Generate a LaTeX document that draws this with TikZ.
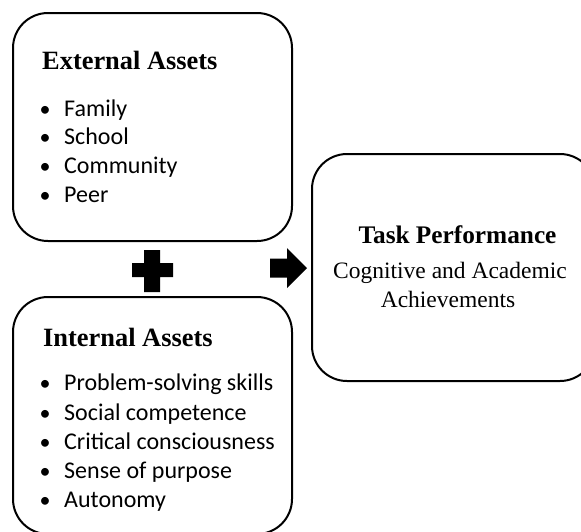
\documentclass[tikz,border=0pt]{standalone}
\usepackage{fontspec}
\setmainfont{Liberation Serif}
\newfontfamily\itemfont{Carlito}
\begin{document}
\begin{tikzpicture}[x=1pt,y=-1pt,
  assetbox/.style={draw=black, line width=2pt, rounded corners=35pt, rectangle, inner sep=0pt, outer sep=0pt},
  titletext/.style={anchor=base west, inner sep=0pt, font=\fontsize{26.4}{31}\selectfont\bfseries},
  bullettext/.style={anchor=base west, inner sep=0pt, font=\itemfont\fontsize{24}{29}\selectfont},
  bulletdot/.style={anchor=base, inner sep=0pt, font=\itemfont\fontsize{22}{29}\selectfont},
  tasktext/.style={anchor=base, inner sep=0pt, font=\fontsize{23.5}{28}\selectfont},
  symbolfill/.style={fill=black, draw=none}
]
\useasboundingbox (0,0) rectangle (581,531);
\clip (0,0) rectangle (581,531);

% boxes
\node[assetbox, minimum width=279pt, minimum height=228pt] (ext) at (152.5,127) {};
\node[assetbox, minimum width=279pt, minimum height=237pt] (int) at (152.5,415.5) {};
\node[assetbox, minimum width=283pt, minimum height=227pt] (task) at (453.5,267.5) {};

% External assets
\node[titletext] (extT) at (42,69) {External Assets};
\foreach \t/\y/\n in {Family/116/a, School/144.5/b, Community/173/c, Peer/202/d}{
  \node[bulletdot] (eb\n) at (45,\y) {•};
  \node[bullettext] (et\n) at (64,\y) {\t};
}

% Internal assets
\node[titletext] (intT) at (43,346.5) {Internal Assets};
\foreach \t/\y/\n in {Problem-solving skills/390.5/a, Social competence/420/b, Critical consciousness/449/c, Sense of purpose/478/d, Autonomy/507/e}{
  \node[bulletdot] (ib\n) at (45,\y) {•};
  \node[bullettext] (it\n) at (64,\y) {\t};
}

% Task performance
\node[tasktext, font=\fontsize{25.3}{30}\selectfont\bfseries] (taskT) at (457.5,243) {Task Performance};
\node[tasktext] (taskA) at (450,278) {Cognitive and Academic};
\node[tasktext] (taskB) at (448,307) {Achievements};

% plus sign
\coordinate (plusC) at (152,271);
\fill[symbolfill] (132,263) -- (144,263) -- (144,250) -- (160,250) -- (160,263) -- (173,263)
  -- (173,277) -- (160,277) -- (160,292) -- (144,292) -- (144,277) -- (132,277) -- cycle;

% arrow
\coordinate (arrC) at (288,268);
\fill[symbolfill] (270,258.5) -- (287,258.5) -- (287,248) -- (307,268) -- (287,288) -- (287,277.5) -- (270,277.5) -- cycle;
\end{tikzpicture}
\end{document}
